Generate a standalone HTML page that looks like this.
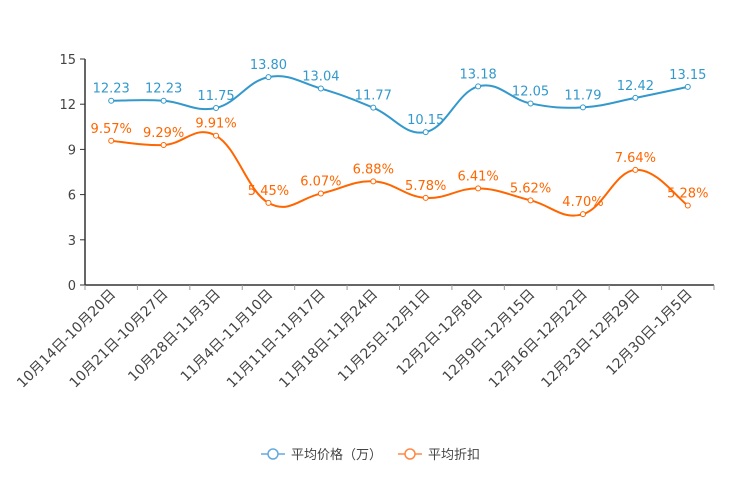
<!DOCTYPE html>
<html><head><meta charset="utf-8"><style>
body{margin:0;background:#fff;width:744px;height:496px;overflow:hidden}
svg{font-family:"DejaVu Sans","Noto Sans CJK SC",sans-serif}
</style></head><body>
<svg id="c" width="744" height="496"></svg>
<script>
const categories=["10月14日-10月20日","10月21日-10月27日","10月28日-11月3日","11月4日-11月10日","11月11日-11月17日","11月18日-11月24日","11月25日-12月1日","12月2日-12月8日","12月9日-12月15日","12月16日-12月22日","12月23日-12月29日","12月30日-1月5日"];
const priceValues=[12.23,12.23,11.75,13.80,13.04,11.77,10.15,13.18,12.05,11.79,12.42,13.15];
const discountValues=[9.57,9.29,9.91,5.45,6.07,6.88,5.78,6.41,5.62,4.70,7.64,5.28];
const priceLabels=["12.23","12.23","11.75","13.80","13.04","11.77","10.15","13.18","12.05","11.79","12.42","13.15"];
const discountLabels=["9.57%","9.29%","9.91%","5.45%","6.07%","6.88%","5.78%","6.41%","5.62%","4.70%","7.64%","5.28%"];
const yTicks=[0,3,6,9,12,15];
const NS="http://www.w3.org/2000/svg",svg=document.getElementById('c');
const L=85,R=714,T=59,B=285,yMax=15;
const bw=(R-L)/categories.length;
const xs=i=>L+bw*(i+0.5);
const ys=v=>B-(v/yMax)*(B-T);
function el(t,a,p){const e=document.createElementNS(NS,t);for(const k in a)e.setAttribute(k,a[k]);(p||svg).appendChild(e);return e;}
yTicks.forEach(v=>{
 const t=el('text',{x:L-9,y:ys(v)+5,'text-anchor':'end','font-size':13,fill:'#444'});t.textContent=v;
 
 
 el('line',{x1:L-5,x2:L,y1:ys(v),y2:ys(v),stroke:'#333'});
});
const ya=el('line',{x1:L,x2:L,y1:T,y2:B,stroke:'#333','stroke-width':1.5});


const xa=el('line',{x1:L,x2:R,y1:B,y2:B,stroke:'#333','stroke-width':1.5});


categories.forEach((c,i)=>{
 el('line',{x1:L+bw*i,x2:L+bw*i,y1:B,y2:B+5,stroke:'#999'});
 const x=xs(i)+5,y=B+10;
 const t=el('text',{x:x,y:y,'text-anchor':'end','font-size':14,fill:'#444',transform:`rotate(-45 ${x} ${y})`});t.textContent=c;
 
 
});
el('line',{x1:R,x2:R,y1:B,y2:B+5,stroke:'#999'});
function path(vals){
 const p=vals.map((v,i)=>[xs(i),ys(v)]);let d=`M${p[0][0]},${p[0][1]}`;
 for(let i=0;i<p.length-1;i++){
  const p0=p[i-1]||p[i],p1=p[i],p2=p[i+1],p3=p[i+2]||p2,k=0.2;
  d+=` C${p1[0]+(p2[0]-p0[0])*k},${p1[1]+(p2[1]-p0[1])*k} ${p2[0]-(p3[0]-p1[0])*k},${p2[1]-(p3[1]-p1[1])*k} ${p2[0]},${p2[1]}`;
 }return d;}
function series(vals,labels,color,name){
 const ln=el('path',{d:path(vals),fill:'none',stroke:color,'stroke-width':2});
 
 
 vals.forEach((v,i)=>{
  const c=el('circle',{cx:xs(i),cy:ys(v),r:2.5,fill:'#fff',stroke:color,'stroke-width':1});
  
  
  const t=el('text',{x:xs(i),y:ys(v)-8,'text-anchor':'middle','font-size':13,fill:color});t.textContent=labels[i];
  
  
 });
}
series(priceValues,priceLabels,'#3399cc','price');
series(discountValues,discountLabels,'#ff6600','discount');
</script>
<svg style="position:absolute;left:0;top:0" width="744" height="496">
 <g>
  <line x1="261" x2="285" y1="454" y2="454" stroke="#66aadd" stroke-width="1.5"/>
  <circle cx="273" cy="454" r="5" fill="#fff" stroke="#66aadd" stroke-width="1.5"/>
  <text x="291" y="459" font-size="13" fill="#444">平均价格（万）</text>
 </g>
 <g>
  <line x1="398" x2="422" y1="454" y2="454" stroke="#ff8844" stroke-width="1.5"/>
  <circle cx="410" cy="454" r="5" fill="#fff" stroke="#ff8844" stroke-width="1.5"/>
  <text x="428" y="459" font-size="13" fill="#444">平均折扣</text>
 </g>
</svg>
</body></html>
